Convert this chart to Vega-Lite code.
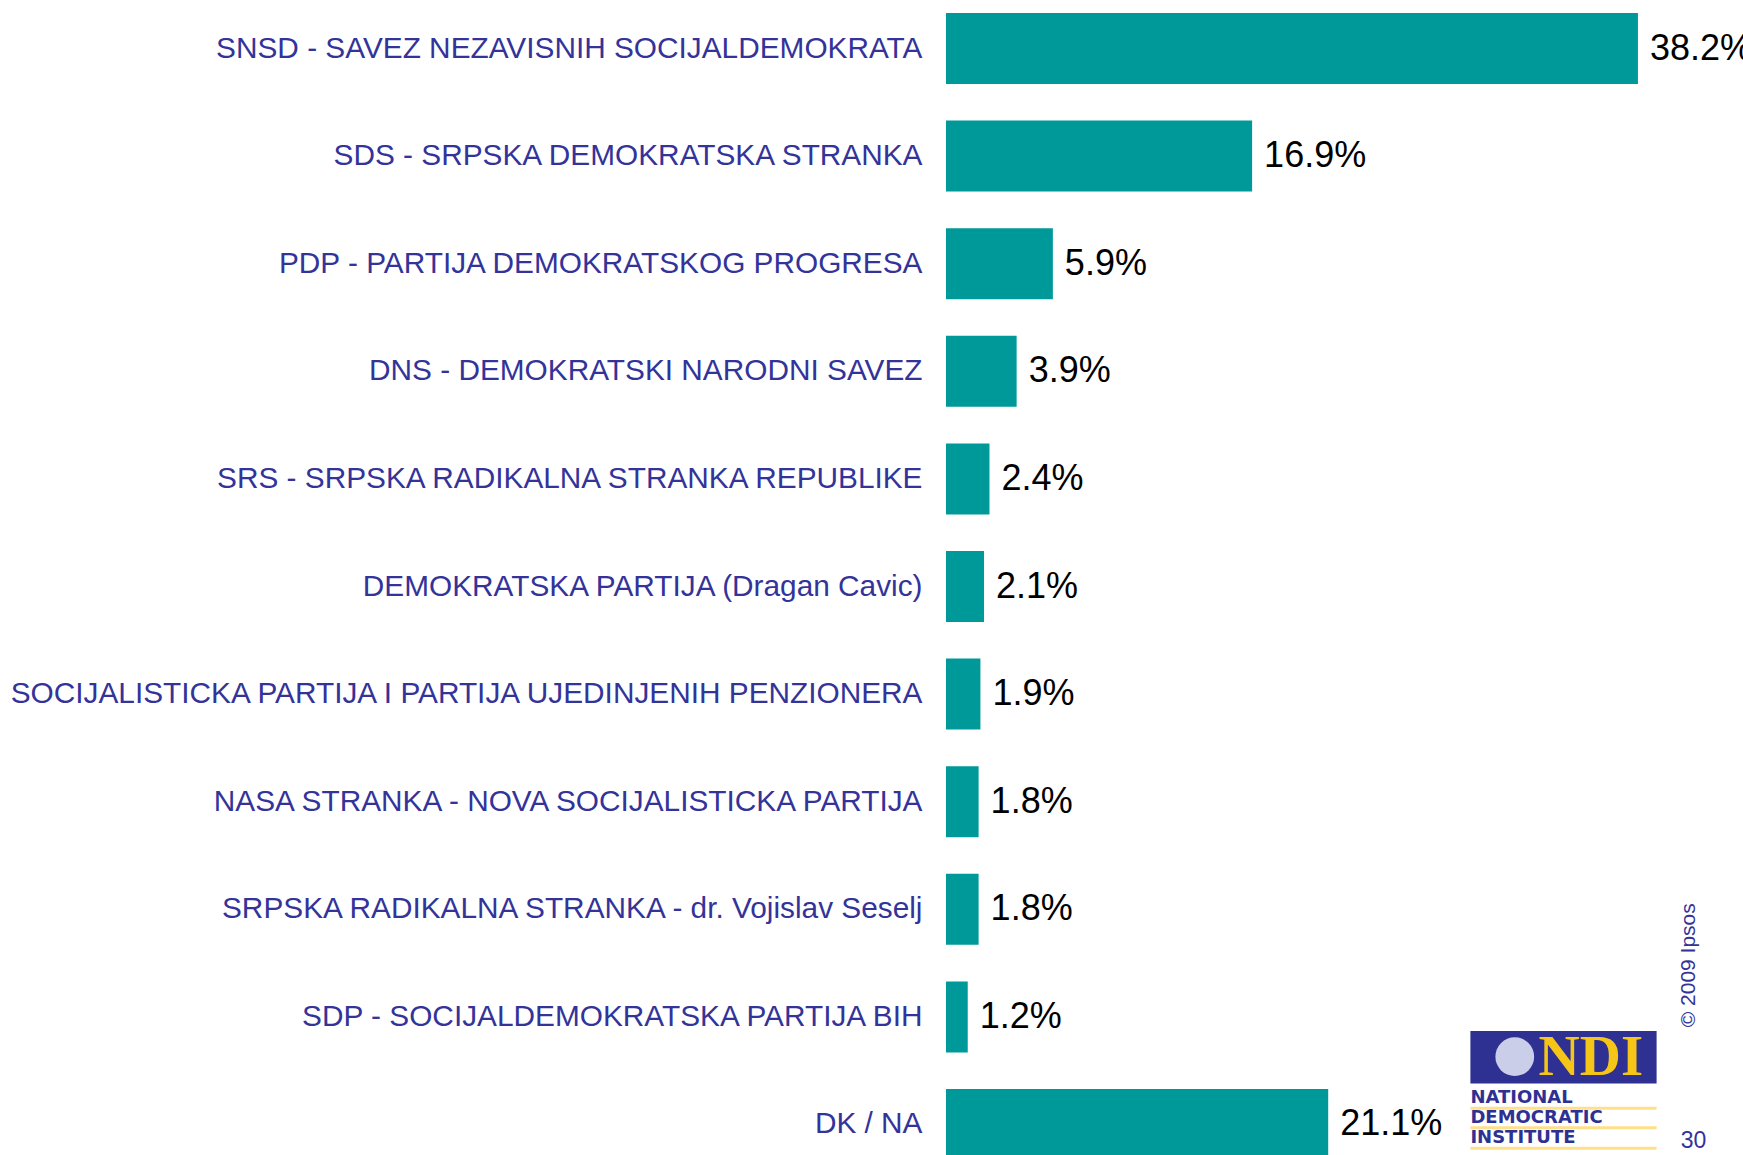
{
  "$schema": "https://vega.github.io/schema/vega-lite/v6.json",
  "autosize": "none",
  "width": 797,
  "height": 1155,
  "padding": {"left": 946, "top": 0, "right": 0, "bottom": 0},
  "background": "white",
  "config": {"view": {"stroke": null}, "font": "Liberation Sans"},
  "resolve": {"scale": {"y": "independent"}},
  "layer": [
    {
      "data": {"values": [
        {"party": "SNSD - SAVEZ NEZAVISNIH SOCIJALDEMOKRATA", "pct": 38.2, "label": "38.2%"},
        {"party": "SDS - SRPSKA DEMOKRATSKA STRANKA", "pct": 16.9, "label": "16.9%"},
        {"party": "PDP - PARTIJA DEMOKRATSKOG PROGRESA", "pct": 5.9, "label": "5.9%"},
        {"party": "DNS - DEMOKRATSKI NARODNI SAVEZ", "pct": 3.9, "label": "3.9%"},
        {"party": "SRS - SRPSKA RADIKALNA STRANKA REPUBLIKE", "pct": 2.4, "label": "2.4%"},
        {"party": "DEMOKRATSKA PARTIJA (Dragan Cavic)", "pct": 2.1, "label": "2.1%"},
        {"party": "SOCIJALISTICKA PARTIJA I PARTIJA UJEDINJENIH PENZIONERA", "pct": 1.9, "label": "1.9%"},
        {"party": "NASA STRANKA - NOVA SOCIJALISTICKA PARTIJA", "pct": 1.8, "label": "1.8%"},
        {"party": "SRPSKA RADIKALNA STRANKA - dr. Vojislav Seselj", "pct": 1.8, "label": "1.8%"},
        {"party": "SDP - SOCIJALDEMOKRATSKA PARTIJA BIH", "pct": 1.2, "label": "1.2%"},
        {"party": "DK / NA", "pct": 21.1, "label": "21.1%"}
      ]},
      "encoding": {
        "y": {
          "field": "party", "type": "nominal", "sort": null,
          "scale": {"range": [13, 1160], "paddingInner": 0.34, "paddingOuter": 0},
          "axis": {"title": null, "ticks": false, "domain": false, "labelPadding": 24,
                   "labelFontSize": 29.8, "labelColor": "#333399", "labelLimit": 0,
                   "labelFont": "Liberation Sans"}
        },
        "x": {"field": "pct", "type": "quantitative", "scale": {"domain": [0, 44], "nice": false},
              "axis": null}
      },
      "layer": [
        {"mark": {"type": "bar", "color": "#009999"}},
        {"mark": {"type": "text", "align": "left", "baseline": "middle", "dx": 12,
                  "fontSize": 36, "color": "#000000", "font": "Liberation Sans"},
         "encoding": {"text": {"field": "label"}}}
      ]
    },
    {
      "data": {"values": [{"t": "© 2009 Ipsos"}]},
      "mark": {"type": "text", "angle": 270, "align": "center", "baseline": "middle",
               "fontSize": 21, "color": "#333399", "font": "Liberation Sans"},
      "encoding": {
        "x": {"datum": 41.0, "type": "quantitative", "scale": {"domain": [0, 44], "nice": false}},
        "y": {"datum": 8.52, "type": "quantitative", "scale": {"domain": [-0.33, 10.33], "range": [13, 1160], "nice": false, "zero": false}, "axis": null},
        "text": {"field": "t"}
      }
    },
    {
      "data": {"values": [{"t": "30"}]},
      "mark": {"type": "text", "align": "center", "baseline": "middle",
               "fontSize": 23, "color": "#333399", "font": "Liberation Sans"},
      "encoding": {
        "x": {"datum": 41.27, "type": "quantitative"},
        "y": {"datum": 10.15, "type": "quantitative", "scale": {"domain": [-0.33, 10.33], "range": [13, 1160], "nice": false, "zero": false}, "axis": null},
        "text": {"field": "t"}
      }
    },
    {
      "data": {"values": [{"t": "NDI"}]},
      "mark": {"type": "rect", "color": "#2E3192"},
      "encoding": {
        "x": {"datum": 28.95, "type": "quantitative"},
        "x2": {"datum": 39.23},
        "y": {"datum": 9.13, "type": "quantitative", "scale": {"domain": [-0.33, 10.33], "range": [13, 1160], "nice": false, "zero": false}, "axis": null},
        "y2": {"datum": 9.62}
      }
    },
    {
      "data": {"values": [{"t": "NDI"}]},
      "mark": {"type": "text", "align": "center", "baseline": "middle",
               "fontSize": 57, "fontWeight": "bold", "color": "#F5C518", "font": "Liberation Serif"},
      "encoding": {
        "x": {"datum": 35.6, "type": "quantitative"},
        "y": {"datum": 9.38, "type": "quantitative", "scale": {"domain": [-0.33, 10.33], "range": [13, 1160], "nice": false, "zero": false}, "axis": null},
        "text": {"field": "t"}
      }
    },
    {
      "data": {"values": [{"t": "globe"}]},
      "mark": {"type": "point", "shape": "circle", "filled": true, "color": "#DDE0F2", "size": 1500, "opacity": 0.9},
      "encoding": {
        "x": {"datum": 31.4, "type": "quantitative"},
        "y": {"datum": 9.37, "type": "quantitative", "scale": {"domain": [-0.33, 10.33], "range": [13, 1160], "nice": false, "zero": false}, "axis": null}
      }
    },
    {
      "data": {"values": [{"pos": 9.85}, {"pos": 10.03}, {"pos": 10.22}]},
      "mark": {"type": "rule", "color": "#FFE08A", "strokeWidth": 3},
      "encoding": {
        "x": {"datum": 28.95, "type": "quantitative"},
        "x2": {"datum": 39.23},
        "y": {"field": "pos", "type": "quantitative", "scale": {"domain": [-0.33, 10.33], "range": [13, 1160], "nice": false, "zero": false}, "axis": null}
      }
    },
    {
      "data": {"values": [{"t": "NATIONAL", "pos": 9.755}, {"t": "DEMOCRATIC", "pos": 9.94}, {"t": "INSTITUTE", "pos": 10.125}]},
      "mark": {"type": "text", "align": "left", "baseline": "middle",
               "fontSize": 18, "fontWeight": "bold", "color": "#2E3192", "font": "DejaVu Sans"},
      "encoding": {
        "x": {"datum": 28.95, "type": "quantitative"},
        "y": {"field": "pos", "type": "quantitative", "scale": {"domain": [-0.33, 10.33], "range": [13, 1160], "nice": false, "zero": false}, "axis": null},
        "text": {"field": "t"}
      }
    }
  ]
}
